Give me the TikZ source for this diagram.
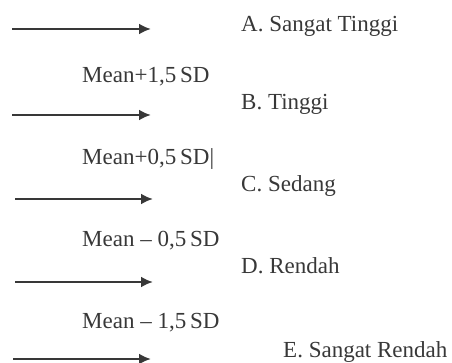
\documentclass[tikz,border=0pt]{standalone}
\usepackage{fontspec}
\setmainfont{Liberation Serif}
\usetikzlibrary{arrows.meta}
\definecolor{ink}{HTML}{383838}
\tikzset{
  lbl/.style={anchor=base west, inner sep=0pt, text=ink, font=\fontsize{23}{27}\selectfont},
  pointer/.style={draw=ink, line width=2.6pt, -{Latex[length=12pt,width=11pt]}}
}
\begin{document}
\begin{tikzpicture}[x=1pt,y=-1pt]
\useasboundingbox (0,0) rectangle (452,363);

% category labels
\node[lbl] (ka) at (241,32) {A. Sangat Tinggi};
\node[lbl] (kb) at (241,110) {B. Tinggi};
\node[lbl] (kc) at (241,192) {C. Sedang};
\node[lbl] (kd) at (241,273) {D. Rendah};
\node[lbl] (ke) at (283,357) {E. Sangat Rendah};

% boundary labels
\node[lbl] (b1) at (82,83) {Mean+1,5\,SD};
\node[lbl] (b2) at (82,165) {Mean+0,5\,SD|};
\node[lbl] (b3) at (82,247) {Mean -- 0,5\,SD};
\node[lbl] (b4) at (82,328) {Mean -- 1,5\,SD};

% arrows
\coordinate (s1) at (12,29);  \coordinate (e1) at (151,29);
\coordinate (s2) at (12,115); \coordinate (e2) at (151,115);
\coordinate (s3) at (15,199); \coordinate (e3) at (153,199);
\coordinate (s4) at (15,282); \coordinate (e4) at (153,282);
\coordinate (s5) at (13,359); \coordinate (e5) at (151,359);
\foreach \i in {1,...,5}{ \draw[pointer] (s\i) -- (e\i); }
\end{tikzpicture}
\end{document}
